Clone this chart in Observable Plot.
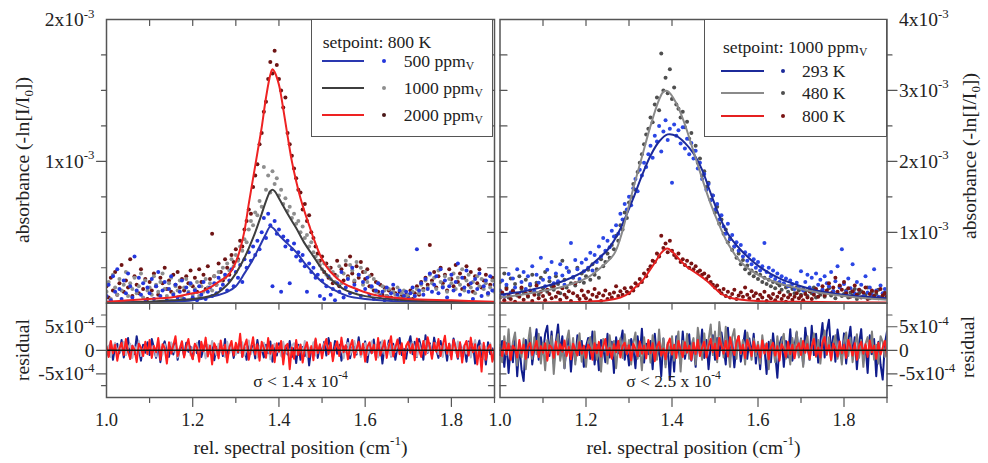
<!DOCTYPE html>
<html><head><meta charset="utf-8">
<script src="https://cdn.jsdelivr.net/npm/d3@7"></script>
<script src="https://cdn.jsdelivr.net/npm/@observablehq/plot@0.6"></script>
<style>
body{margin:0;background:#fff;}
#root{position:relative;width:988px;height:463px;overflow:hidden;font-family:"Liberation Serif","DejaVu Serif",serif;color:#222;background:#fff;}
#root svg{position:absolute;left:0;top:0;}
.ttl{position:absolute;font-size:19.6px;white-space:nowrap;transform:translate(-50%,-50%) rotate(-90deg);}
.leg{position:absolute;box-sizing:border-box;border:1.5px solid #555;background:#fff;font-size:17.6px;}
.leg .t{position:absolute;white-space:nowrap;transform:translateY(-50%);}
.leg .ln{position:absolute;height:2px;transform:translateY(-50%);}
.leg .dt{position:absolute;width:4px;height:4px;border-radius:50%;transform:translate(-50%,-50%);}
sub{font-size:0.66em;vertical-align:-0.32em;line-height:0;}
</style></head>
<body><div id="root"></div>
<script>
// ---------- grid (x sample positions, cm^-1) ----------
const X0 = 1.0, DX = 0.005, NPTS = 181;
const U = 1e-5; // all values below are in units of 1e-5

// ---------- measured points, left panel (setpoint 800 K) ----------
const ptsL500 = [5,13,2,19,8,24,10,3,16,7,21,12,4,33,9,18,6,14,1,11,
 7,17,3,12,22,5,9,15,2,10,19,6,13,4,8,16,3,11,7,14,
 4,9,2,12,6,15,3,8,11,5,14,7,18,10,13,20,9,16,24,12,
 22,18,27,15,31,25,36,30,40,34,
 44,38,50,60,46,63,55,12,58,49,
 52,8,47,40,44,14,38,42,33,36,
 30,34,26,8,28,22,25,18,20,5,
 16,3,12,19,6,10,2,14,8,22,4,11,17,7,25,13,9,20,5,15,
 10,18,6,12,3,9,14,5,8,2,11,4,7,13,3,6,9,2,5,8,
 3,7,11,5,38,9,14,6,17,10,21,8,13,19,7,24,11,16,4,12,
 20,9,15,28,6,18,11,23,8,14,3,17,10,21,5,12,16,7,19,9,13];
const ptsL1000 = [8,15,3,20,11,6,17,9,13,22,5,14,10,18,7,12,21,4,16,9,
 11,6,19,13,8,15,21,10,5,14,18,7,12,9,16,4,11,17,8,13,
 6,10,15,5,12,8,17,11,14,9,19,13,22,16,25,18,28,23,31,26,
 34,30,40,37,45,43,52,58,55,64,
 62,72,68,96,80,90,78,93,84,88,
 76,80,70,74,65,68,60,63,56,58,
 50,54,46,48,40,43,36,33,30,27,
 24,28,20,25,17,22,15,19,26,14,21,30,18,27,23,16,29,20,25,13,
 22,15,19,11,17,8,14,6,12,9,5,10,3,8,6,11,4,7,9,5,
 6,3,8,5,10,7,13,9,16,11,20,14,18,10,23,15,12,19,8,17,
 14,21,10,18,13,24,9,16,20,11,15,7,19,12,17,10,14,6,11,16,8];
const ptsL2000 = [12,4,18,9,22,6,14,27,8,16,11,31,5,19,13,7,24,10,17,3,
 15,9,21,12,6,18,14,25,10,16,8,20,13,22,11,17,9,19,14,23,
 12,18,8,24,15,20,10,26,17,49,19,13,28,22,16,31,25,20,34,29,
 38,31,44,40,52,58,66,63,82,90,
 98,112,120,135,142,158,170,162,178,168,
 158,150,138,145,120,112,104,95,88,80,
 78,66,70,58,62,50,46,40,35,30,
 33,22,28,18,25,14,20,30,12,24,16,27,19,33,21,15,26,18,29,22,
 17,24,12,20,9,15,8,13,6,11,5,9,4,10,7,3,8,5,2,6,
 4,9,3,7,12,6,15,10,18,13,41,16,22,11,19,25,14,20,9,24,
 17,12,27,15,21,10,18,26,13,22,8,19,14,24,11,16,20,7,13,18,9];

// ---------- measured points, right panel (setpoint 1000 ppmV) ----------
const ptsR293 = [18,32,9,26,41,15,35,22,48,12,30,44,20,38,27,52,16,40,29,64,
 33,24,47,36,58,28,42,31,55,39,26,50,44,85,37,61,48,34,57,45,
 62,50,71,46,68,58,80,66,92,74,88,79,102,94,110,98,126,118,140,132,
 150,138,162,175,158,188,180,198,192,210,
 222,205,236,228,250,214,242,258,230,246,
 170,252,236,244,225,248,218,232,210,226,
 204,215,190,198,175,182,160,168,145,152,
 132,140,118,124,108,98,112,90,96,80,86,74,82,66,72,60,68,55,62,50,
 58,46,52,85,44,50,38,46,34,42,30,38,28,35,24,32,27,20,29,23,
 45,18,30,40,22,36,15,42,26,33,19,38,28,24,44,17,31,52,22,76,
 27,16,35,21,55,14,30,19,26,10,38,15,22,12,48,18,9,25,14,20,11];
const ptsR480 = [30,14,42,22,8,35,18,27,11,38,20,15,33,9,25,40,17,29,12,36,
 21,44,16,31,24,19,38,27,14,60,33,22,45,28,36,25,50,31,42,29,
 38,47,33,55,40,48,36,62,52,58,70,64,82,76,95,88,110,104,128,120,
 142,150,168,160,185,198,210,224,238,246,
 262,255,280,290,272,352,300,318,296,330,
 288,304,280,274,262,270,248,256,232,240,
 215,222,198,204,180,186,164,170,146,152,
 128,136,112,118,98,104,86,92,75,80,64,70,55,61,48,53,42,46,38,43,
 34,40,30,36,27,33,24,30,21,28,25,19,27,22,16,24,20,14,22,18,
 12,20,16,10,18,14,22,8,16,12,19,9,15,21,11,17,7,14,24,10,
 13,18,8,15,11,20,6,14,17,9,12,22,7,16,10,13,19,8,11,15,9];
const ptsR800 = [8,15,4,20,11,6,17,2,13,9,22,5,14,10,18,3,12,25,7,16,
 10,4,19,13,7,24,9,15,5,21,12,8,17,3,14,28,10,6,18,11,
 7,16,4,12,20,9,14,3,11,18,6,13,8,15,24,10,17,12,21,16,
 14,22,18,28,25,34,30,42,38,47,
 52,60,58,70,66,95,78,84,72,88,
 74,68,64,70,58,62,54,60,50,56,
 48,52,44,46,40,42,34,38,30,26,
 22,25,18,14,20,10,16,8,13,19,6,11,15,9,22,12,7,17,10,14,
 5,12,8,16,3,10,7,13,4,9,15,6,11,2,8,12,5,9,14,7,
 10,4,13,8,17,6,12,20,9,15,24,11,18,28,14,22,36,16,25,19,
 30,14,21,9,17,25,12,19,8,15,22,6,13,18,10,16,7,20,11,14,9];

// ---------- fitted profiles, [x, value] ----------
const fitL500 = [[1.00,0.5],[1.10,0.8],[1.15,1],[1.20,2],[1.25,5],[1.28,8],[1.30,12],[1.32,21],[1.34,31],[1.36,43],[1.37,49],[1.38,54],[1.39,52],[1.40,48],[1.42,42],[1.44,36],[1.46,28],[1.48,21],[1.50,15],[1.53,9],[1.56,5],[1.60,3],[1.70,1],[1.80,0.6],[1.90,0.5]];
const fitL1000 = [[1.00,0.5],[1.10,1],[1.15,2],[1.20,3],[1.25,6],[1.28,13],[1.30,21],[1.32,32],[1.34,46],[1.36,63],[1.37,72],[1.38,79],[1.385,80],[1.39,79],[1.40,74],[1.42,63],[1.44,53],[1.46,42],[1.48,33],[1.50,24],[1.52,17],[1.55,10],[1.60,5],[1.70,2],[1.80,1],[1.90,0.5]];
const fitL2000 = [[1.00,1],[1.05,2],[1.10,3],[1.15,4],[1.20,7],[1.22,8],[1.24,11],[1.26,15],[1.28,19],[1.29,23],[1.30,29],[1.31,38],[1.32,51],[1.33,70],[1.34,88],[1.35,106],[1.36,124],[1.37,145],[1.38,161],[1.385,165],[1.39,163],[1.40,154],[1.41,137],[1.42,118],[1.43,100],[1.44,86],[1.45,74],[1.46,64],[1.47,55],[1.48,46],[1.49,38],[1.50,31],[1.52,22],[1.55,14],[1.58,10],[1.62,6],[1.70,3],[1.80,2],[1.90,1]];
const fitR293 = [[1.00,12],[1.05,16],[1.08,20],[1.10,23],[1.15,32],[1.20,47],[1.22,58],[1.25,75],[1.265,88],[1.28,105],[1.30,133],[1.31,148],[1.33,180],[1.35,208],[1.37,228],[1.39,238],[1.41,236],[1.43,226],[1.45,211],[1.47,188],[1.49,155],[1.51,123],[1.53,98],[1.56,75],[1.60,53],[1.65,35],[1.70,24],[1.75,16],[1.80,12],[1.85,9],[1.90,7]];
const fitR480 = [[1.00,8],[1.05,12],[1.08,15],[1.15,24],[1.20,35],[1.23,48],[1.265,69],[1.28,92],[1.30,138],[1.31,162],[1.33,206],[1.35,250],[1.37,287],[1.38,298],[1.39,299],[1.41,282],[1.43,252],[1.45,214],[1.47,176],[1.49,140],[1.51,110],[1.53,84],[1.56,58],[1.60,40],[1.65,28],[1.70,20],[1.75,14],[1.80,10],[1.85,7],[1.90,5]];
const fitR800 = [[1.00,1],[1.20,2],[1.25,4],[1.28,8],[1.30,14],[1.31,20],[1.33,31],[1.34,39],[1.36,57],[1.375,71],[1.389,77],[1.40,73],[1.42,60],[1.435,51],[1.46,41],[1.48,32],[1.50,21],[1.515,13],[1.54,7],[1.60,3],[1.70,2],[1.90,1]];

// ---------- residuals ----------
const resL500 = [5,-12,18,-20,8,14,-6,22,-15,3,26,-18,10,-8,30,2,-22,12,-5,17,
 -10,24,6,-16,11,-25,7,19,-4,-14,15,-9,21,-20,4,9,-12,16,-3,8,
 -18,12,-6,20,-14,5,17,-10,2,13,-21,7,-4,15,-12,24,-8,3,11,-16,
 9,-5,18,-13,6,-20,14,-2,10,-17,
 22,-8,4,-15,12,-6,19,-24,8,-11,
 15,-3,-18,10,-9,20,-14,5,-27,12,
 -20,7,-12,16,-32,4,-8,22,-16,9,
 -5,18,-11,26,3,-14,20,-7,12,-22,8,-3,24,-17,6,15,-9,28,-12,2,
 19,-25,10,-6,23,-15,5,17,-28,9,-4,21,-13,14,-20,7,26,-10,3,-18,
 12,30,-8,18,-14,24,6,-20,32,-5,15,-11,27,2,-16,20,-7,11,-22,14,
 -9,25,4,-18,16,-12,8,-24,19,-3,13,-28,6,21,-15,10,-30,17,-8,4,-20];
const resL1000 = [-4,10,-14,6,16,-8,12,-2,18,-10,4,14,-16,8,-6,20,-12,2,11,-7,
 15,-5,9,-13,22,3,-9,13,-18,7,17,-3,11,-15,5,19,-8,1,14,-11,
 6,-4,16,-12,9,2,-17,12,-7,20,4,-10,14,-3,8,-14,18,-6,10,1,
 -9,13,-5,17,-11,6,21,-8,3,12,
 -15,9,-2,16,-7,11,-19,5,14,-4,
 8,-12,18,-6,2,-16,10,15,-9,4,
 13,-7,20,-14,6,-3,17,-11,9,1,
 -8,14,22,-5,10,-13,4,18,-2,12,-17,7,16,-9,3,20,-6,11,-14,5,
 15,-10,8,19,-4,12,-15,6,21,-8,2,14,-12,9,-3,17,-7,11,-16,4,
 10,-6,18,3,-13,15,-9,7,20,-4,12,-11,5,16,-8,9,-14,13,2,-10,
 7,14,-5,19,-12,3,11,-7,16,-15,6,22,-9,4,13,-18,8,-3,15,-11,5];
const resL2000 = [8,-14,20,-6,12,-22,4,16,-10,24,-3,-18,10,2,-25,14,6,-12,18,-8,
 22,-16,9,-4,26,-20,13,5,-28,17,-7,11,30,-12,3,19,-15,8,24,-5,
 -19,14,6,-24,18,-2,27,-13,10,-30,15,4,-17,21,-8,12,-26,7,20,-11,
 16,-4,35,-14,9,23,-20,3,28,-9,
 13,-22,18,5,-16,26,-7,11,-25,15,
 -3,20,-30,8,14,-40,6,-18,22,-10,
 12,-26,4,17,-14,9,-21,25,-6,13,
 -17,10,24,-8,16,-23,5,19,-12,27,-4,11,-19,7,22,-15,3,18,-9,14,
 -24,8,17,-6,12,-20,26,-11,4,21,-16,9,30,-13,6,23,-8,15,-27,10,
 18,-5,13,-21,25,2,-14,20,-9,28,7,-18,16,-3,24,-12,11,31,-7,14,
 -19,22,5,-15,17,-26,9,20,-11,27,-4,13,-30,8,-45,16,-20,6,12,-24,3];
const resR293 = [-10,20,-35,15,-48,8,-25,30,-55,12,-40,-65,22,-15,38,-30,5,45,-20,28,
 -8,35,52,-12,40,-28,18,55,-5,30,-38,10,25,-45,14,-22,32,-10,20,-35,
 8,26,-18,40,-30,12,-42,22,5,-25,35,-15,18,-48,28,-6,15,42,-20,10,
 -32,24,6,-38,30,-12,46,-26,14,-8,
 20,-40,35,-15,8,-55,25,-30,12,-62,
 18,-45,30,5,-28,40,-18,10,34,-22,
 15,-35,28,-8,44,-16,22,-40,10,32,
 -20,26,-12,38,6,-30,48,-14,20,-36,12,30,-24,8,42,-18,25,-10,35,-28,
 14,-40,22,5,-50,18,-25,36,-8,-58,12,28,-35,20,-15,45,-22,10,38,-12,
 25,-30,48,8,-20,52,-10,35,-26,18,58,-15,40,65,-5,30,-24,44,12,-18,
 36,-28,20,50,-12,28,-40,15,45,-22,10,-48,32,-8,24,-55,18,-30,-62,14,40];
const resR480 = [12,-25,30,-10,45,-20,18,38,-32,8,-15,25,-40,14,48,-18,28,-8,35,-28,
 16,-42,22,-5,30,-50,10,34,-22,6,-38,20,42,-15,26,-30,12,36,-24,8,
 -35,18,28,-12,40,-20,5,-45,24,14,-28,32,-6,20,-38,10,26,-16,34,-8,
 22,-30,15,38,-18,8,-42,28,-10,18,
 -26,32,6,-20,44,-12,25,-36,16,-5,
 30,-22,12,40,-45,20,-8,35,-18,10,
 26,-30,48,14,-20,36,-12,22,55,-10,
 40,-25,60,18,-15,50,8,-35,28,45,-18,30,-8,22,-30,38,12,-20,25,-12,
 18,-28,32,-5,15,-40,22,8,-25,30,-12,20,35,-18,10,-30,26,-8,40,-15,
 24,-35,12,30,-20,8,36,-14,22,-28,16,42,-10,28,-22,14,32,-18,6,-30,
 20,38,-12,26,-25,10,34,-16,22,-35,14,28,-8,40,-20,12,-28,30,18,-14,24];
const resR800 = [5,-12,18,-8,14,-20,10,3,-15,22,-6,12,-18,8,16,-10,4,20,-14,9,
 -5,15,-22,11,6,-16,19,-9,13,-3,21,-12,7,-19,14,2,-11,17,-7,10,
 -16,12,4,-20,15,-6,18,-13,8,24,-10,5,-18,13,-4,20,-15,9,16,-8,
 11,-21,14,3,-12,19,-7,10,-17,22,
 -6,15,-23,8,18,-11,4,-19,13,25,
 -9,12,-16,20,2,-14,17,-5,10,-20,
 16,-8,22,-12,6,18,-15,9,24,-4,
 14,-18,26,10,-7,20,-13,28,5,-10,17,30,-6,12,-16,22,8,-12,19,-3,
 11,-15,21,-7,14,-19,6,16,-11,9,-22,13,3,-14,18,-8,12,-17,7,15,
 -10,20,-5,13,-18,8,24,-12,6,-15,17,28,-8,11,-20,14,4,-13,19,-6,
 12,-16,22,7,-11,15,-20,9,18,-7,13,-14,21,-4,10,-18,16,-9,6,20,-12];

// ---------- ticks & labels ----------
const xMajor = [1.0,1.2,1.4,1.6,1.8];
const xInner = [1.1,1.2,1.3,1.4,1.5,1.6,1.7,1.8];
const xMinorBottom = [1.1,1.3,1.5,1.7,1.9];
const yMajorL = [1e-3, 2e-3], yMinorL = [2.5e-4,5e-4,7.5e-4,1.25e-3,1.5e-3,1.75e-3];
const yMajorR = [1e-3,2e-3,3e-3,4e-3], yMinorR = [5e-4,1.5e-3,2.5e-3,3.5e-3];
const resMajor = [-5e-4,0,5e-4], resMinor = [-7.5e-4,7.5e-4];
const legendLeftTitle = "setpoint: 800 K";
const legendLeftLabels = ["500 ppm","1000 ppm","2000 ppm"];
const legendRightTitle = "setpoint: 1000 ppm";
const legendRightLabels = ["293 K","480 K","800 K"];
const sigmaLeft = "σ < 1.4 x 10^-4", sigmaRight = "σ < 2.5 x 10^-4";
const xTitle = "rel. spectral position (cm^-1^)";

// ---------- colours ----------
const C = {
  L500dot:"#2436dc", L1000dot:"#8e8e8e", L2000dot:"#6e1414",
  L500ln:"#2a38b0", L1000ln:"#3e3e3e", L2000ln:"#ee2222",
  R293dot:"#2b46e4", R480dot:"#4f4f4f", R800dot:"#7a1313",
  R293ln:"#1c2a9a", R480ln:"#8a8a8a", R800ln:"#e52020",
  resL500:"#14208c", resL1000:"#b2b4c6", resL2000:"#ff1e1e",
  resR293:"#101c8c", resR480:"#808080", resR800:"#ff1e1e"
};
const FR = "#555", TXT = "#222";
const FONT = '"Liberation Serif","DejaVu Serif",serif';
const FS_Y = 19.5, FS_X = 18.5, FS_TITLE = 19.8, FS_SIG = 17.5;
const W = 988, H = 463;
const PL = {x0:106, x1:494}, PR = {x0:499.5, x1:886.5};
const TOP = 19, MID = 302.7, BOT = 397;

const xGrid = d3.range(NPTS).map(i => +(X0 + i*DX).toFixed(3));
const pts = (vals) => vals.slice(0, NPTS).map((v,i) => ({x:xGrid[i], y:v*U}));
const knots = (arr) => arr.map(([x,y]) => ({x, y:y*U}));

const spike = {draw(ctx, l){ ctx.moveTo(0,0); ctx.lineTo(0,-l); }};
const vt = (vals, o) => Plot.vector(vals, {stroke:FR, strokeWidth:1.2, shape:spike, anchor:"start", ...o});
const fmtE = (v, e) => v === 0 ? "0" : `${Math.round(v/Math.pow(10,e))}x10^${e}`;

function basePlot(P, top, bottom, ydom, marks){
  return Plot.plot({
    width:W, height:H,
    marginLeft:P.x0, marginRight:W-P.x1, marginTop:top, marginBottom:H-bottom,
    x:{domain:[1,1.9], axis:null}, y:{domain:ydom, axis:null},
    style:{background:"transparent", fontFamily:FONT, fontSize:"17px", color:TXT, overflow:"visible"},
    marks
  });
}

function mainPanel(P, side, ydom, yMajor, yMinor, exp, dots, fits){
  const rot = side === "left" ? -90 : 90;
  const inner = side === "left" ? "right" : "left";
  const marks = [];
  dots.forEach(d => marks.push(Plot.dot(pts(d.v), {x:"x", y:"y", r:2, fill:d.c, clip:true})));
  fits.forEach(f => marks.push(Plot.line(knots(f.v), {x:"x", y:"y", stroke:f.c, strokeWidth:2, curve:"catmull-rom", clip:true})));
  marks.push(Plot.frame({stroke:FR, strokeWidth:1.5}));
  marks.push(vt(yMajor.filter(v => v < ydom[1]), {y:d=>d, frameAnchor:side, rotate:rot, length:10}));
  marks.push(vt(yMinor, {y:d=>d, frameAnchor:side, rotate:rot, length:5}));
  marks.push(vt(yMinor.concat(yMajor.filter(v => v < ydom[1])), {y:d=>d, frameAnchor:inner, rotate:rot, length:7}));
  marks.push(vt(xInner, {x:d=>d, frameAnchor:"top", rotate:180, length:6}));
  marks.push(Plot.text(yMajor, {y:d=>d, frameAnchor:side, dx: side==="left" ? -12 : 12,
    textAnchor: side==="left" ? "end" : "start", text:d => fmtE(d, exp), fill:TXT, fontSize:FS_Y}));
  return basePlot(P, TOP, MID, ydom, marks);
}

function resPanel(P, side, series, sigma, sigmaDx){
  const rot = side === "left" ? -90 : 90;
  const inner = side === "left" ? "right" : "left";
  const marks = [];
  series.forEach(s => marks.push(Plot.line(pts(s.v), {x:"x", y:"y", stroke:s.c, strokeWidth:2, clip:true})));
  marks.push(Plot.ruleY([0], {stroke:"#111", strokeWidth:1.5}));
  marks.push(Plot.frame({stroke:FR, strokeWidth:1.5}));
  marks.push(vt(resMajor, {y:d=>d, frameAnchor:side, rotate:rot, length:10}));
  marks.push(vt(resMinor, {y:d=>d, frameAnchor:side, rotate:rot, length:5}));
  marks.push(vt(resMajor.filter(v=>v!==0).concat(resMinor), {y:d=>d, frameAnchor:inner, rotate:rot, length:6}));
  marks.push(vt(xInner, {x:d=>d, frameAnchor:"top", rotate:180, length:6}));
  marks.push(vt(xMajor.slice(1), {x:d=>d, frameAnchor:"bottom", rotate:180, length:9}));
  marks.push(vt(xMinorBottom, {x:d=>d, frameAnchor:"bottom", rotate:180, length:5}));
  marks.push(Plot.text(resMajor, {y:d=>d, frameAnchor:side, dx: side==="left" ? -12 : 12,
    textAnchor: side==="left" ? "end" : "start", text:d => fmtE(d, -4), fill:TXT, fontSize:FS_Y}));
  marks.push(Plot.text(xMajor, {x:d=>d, frameAnchor:"bottom", dy:28, text:d => d.toFixed(1), fill:TXT, fontSize:FS_X}));
  marks.push(Plot.text([xTitle], {frameAnchor:"bottom", dy:56, fill:TXT, fontSize:FS_TITLE}));
  marks.push(Plot.text([sigma], {frameAnchor:"bottom", dy:-11, dx:sigmaDx, fill:TXT, fontSize:FS_SIG}));
  return basePlot(P, MID, BOT, [-1e-3, 1e-3], marks);
}

const root = document.getElementById("root");
const svgs = [
  mainPanel(PL, "left", [0, 2e-3], yMajorL, yMinorL, -3,
    [{v:ptsL2000, c:C.L2000dot}, {v:ptsL1000, c:C.L1000dot}, {v:ptsL500, c:C.L500dot}],
    [{v:fitL500, c:C.L500ln}, {v:fitL1000, c:C.L1000ln}, {v:fitL2000, c:C.L2000ln}]),
  mainPanel(PR, "right", [0, 4e-3], yMajorR, yMinorR, -3,
    [{v:ptsR480, c:C.R480dot}, {v:ptsR293, c:C.R293dot}, {v:ptsR800, c:C.R800dot}],
    [{v:fitR293, c:C.R293ln}, {v:fitR480, c:C.R480ln}, {v:fitR800, c:C.R800ln}]),
  resPanel(PL, "left", [{v:resL500, c:C.resL500}, {v:resL1000, c:C.resL1000}, {v:resL2000, c:C.resL2000}], sigmaLeft, 0),
  resPanel(PR, "right", [{v:resR293, c:C.resR293}, {v:resR480, c:C.resR480}, {v:resR800, c:C.resR800}], sigmaRight, -20)
];
svgs.forEach(s => root.appendChild(s));

// superscripts: segments separated by ^ alternate baseline / raised
const NS = "http://www.w3.org/2000/svg";
root.querySelectorAll("text").forEach(t => {
  const s = t.textContent;
  if (!s.includes("^")) return;
  const fs = parseFloat(getComputedStyle(t).fontSize) || 17;
  const parts = s.split("^");
  t.textContent = "";
  parts.forEach((p, i) => {
    if (!p) return;
    const ts = document.createElementNS(NS, "tspan");
    ts.textContent = p;
    if (i % 2 === 1) { ts.setAttribute("dy", -0.42*fs); ts.setAttribute("font-size", 0.66*fs); }
    else if (i > 0) { ts.setAttribute("dy", 0.42*fs); }
    t.appendChild(ts);
  });
});

// axis titles
function title(html, x, y){
  const d = document.createElement("div");
  d.className = "ttl"; d.innerHTML = html;
  d.style.left = x + "px"; d.style.top = y + "px";
  root.appendChild(d);
}
title("absorbance (-ln[I/I<sub>0</sub>])", 23, 160);
title("absorbance (-ln[I/I<sub>0</sub>])", 970, 156);
title("residual", 23, 350);
title("residual", 968, 347);

// legends
function legend(box, ttl, ttlSub, labels, sub, lines, dotsC, L){
  const d = document.createElement("div");
  d.className = "leg";
  Object.assign(d.style, {left:box[0]+"px", top:box[1]+"px", width:box[2]+"px", height:box[3]+"px"});
  let h = `<div class="t" style="left:${L.tx}px;top:${L.ty}px">${ttl}${ttlSub ? "<sub>"+ttlSub+"</sub>" : ""}</div>`;
  labels.forEach((lab, i) => {
    const y = L.rows[i];
    h += `<div class="ln" style="left:${L.lx}px;width:${L.lw}px;top:${y}px;background:${lines[i]}"></div>`;
    h += `<div class="dt" style="left:${L.dx}px;top:${y}px;background:${dotsC[i]}"></div>`;
    h += `<div class="t" style="left:${L.txt}px;top:${y}px">${lab}${sub ? "<sub>"+sub+"</sub>" : ""}</div>`;
  });
  d.innerHTML = h;
  root.appendChild(d);
}
legend([310.7, 18.5, 182.5, 118.5], legendLeftTitle, "", legendLeftLabels, "V",
  [C.L500ln, C.L1000ln, C.L2000ln], [C.L500dot, C.L1000dot, "#4a1818"],
  {tx:11, ty:22, rows:[41, 68, 95], lx:10, lw:42, dx:72, txt:92});
legend([704, 18.5, 182.5, 118], legendRightTitle, "V", legendRightLabels, "",
  [C.R293ln, C.R480ln, C.R800ln], [C.R293ln, C.R480dot, C.R800dot],
  {tx:18, ty:27, rows:[51, 73.5, 96], lx:16, lw:43, dx:78, txt:97});
</script></body></html>
